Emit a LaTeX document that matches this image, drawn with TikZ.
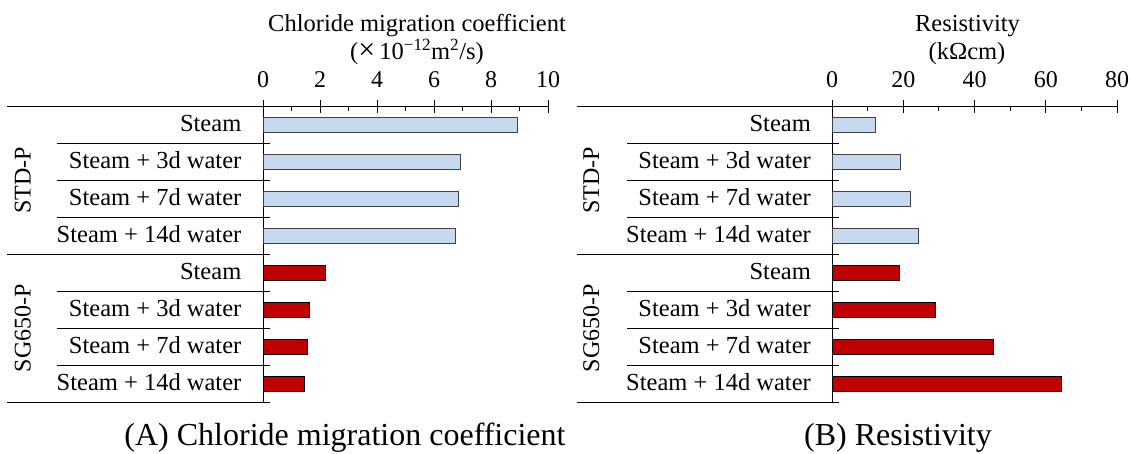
\documentclass[tikz,border=0pt]{standalone}
\usepackage{fontspec}
\setmainfont{Liberation Serif}
\definecolor{barblue}{HTML}{C6D9F1}
\definecolor{barred}{HTML}{C00000}

\begin{document}
\begin{tikzpicture}[x=1pt,y=-1pt,
  rowlabel/.style={anchor=base east, inner sep=0pt, font=\fontsize{24.5}{28}\selectfont},
  ticklabel/.style={anchor=base, inner sep=0pt, font=\fontsize{24}{28}\selectfont},
  titletext/.style={anchor=base, inner sep=0pt, font=\fontsize{24.5}{29}\selectfont},
  grouplabel/.style={rotate=90, inner sep=0pt, font=\fontsize{24}{28}\selectfont},
  captiontext/.style={anchor=base, inner sep=0pt, font=\fontsize{32}{36}\selectfont},
  axisline/.style={line width=1pt, black},
  majortick/.style={line width=1pt, black},
  minortick/.style={line width=0.9pt, black},
  bluebar/.style={draw=black!75, line width=0.9pt, fill=barblue},
  redbar/.style={draw=black, line width=0.9pt, fill=barred},
]
\useasboundingbox (0,0) rectangle (1133,454);
\newcommand{\bigtimes}{{\fontsize{30}{30}\selectfont ×}\,}

% ---------- Panel A: chloride migration coefficient ----------
\coordinate (A-top-left) at (7.3,106.7);
\coordinate (A-org) at (263,106.7);
\coordinate (A-end) at (548,106.7);
\coordinate (A-bot) at (263,402.7);
\draw[axisline] (A-top-left) -- (A-end);
\draw[axisline] (A-org) -- (A-bot);
% row separators / category ticks
\foreach \k in {1,2,3,5,6,7}
  \draw[axisline] (57.3,{106.7+37*\k}) -- (270,{106.7+37*\k});
\foreach \k in {4,8}
  \draw[axisline] (7.3,{106.7+37*\k}) -- (270,{106.7+37*\k});
% value axis ticks and labels
\foreach \v [count=\j from 0] in {0,2,4,6,8,10} {
  \draw[majortick] ({263+28.5*\v},100) -- ({263+28.5*\v},113);
  \node[ticklabel] (A-tick-\j) at ({263+28.5*\v},87.3) {\v};
}
\foreach \v in {1,3,5,7,9}
  \draw[minortick] ({263+28.5*\v},106.7) -- ({263+28.5*\v},111);
% bars
\foreach \v [count=\i] in {8.92,6.92,6.87,6.74}
  \draw[bluebar] (263,{106.7+37*(\i-0.5)-7.5}) rectangle ({263+28.5*\v},{106.7+37*(\i-0.5)+7.5});
\foreach \v [count=\i from 5] in {2.18,1.63,1.55,1.44}
  \draw[redbar] (263,{106.7+37*(\i-0.5)-7.5}) rectangle ({263+28.5*\v},{106.7+37*(\i-0.5)+7.5});
% row labels
\foreach \lab [count=\i] in {Steam,Steam + 3d water,Steam + 7d water,Steam + 14d water,Steam,Steam + 3d water,Steam + 7d water,Steam + 14d water}
  \node[rowlabel] (A-row-\i) at (241.5,{106.7+37*(\i-0.5)+6.5}) {\lab};
% group labels
\node[grouplabel] (A-std) at (22.8,180.2) {STD-P};
\node[grouplabel] (A-sg) at (22.8,328.2) {SG650-P};
% axis title and caption
\node[titletext] (A-title1) at (417,31.7) {Chloride migration coefficient};
\node[titletext] (A-title2) at (417,60) {(\bigtimes10\textsuperscript{−12}m\textsuperscript{2}/s)};
\node[captiontext] (A-caption) at (345,445) {(A) Chloride migration coefficient};

% ---------- Panel B: resistivity ----------
\coordinate (B-top-left) at (576.5,106.7);
\coordinate (B-org) at (832,106.7);
\coordinate (B-end) at (1117,106.7);
\coordinate (B-bot) at (832,402.7);
\draw[axisline] (B-top-left) -- (B-end);
\draw[axisline] (B-org) -- (B-bot);
\foreach \k in {1,2,3,5,6,7}
  \draw[axisline] (627,{106.7+37*\k}) -- (839,{106.7+37*\k});
\foreach \k in {4,8}
  \draw[axisline] (576.5,{106.7+37*\k}) -- (839,{106.7+37*\k});
\foreach \v [count=\j from 0] in {0,20,40,60,80} {
  \draw[majortick] ({832+3.5625*\v},100) -- ({832+3.5625*\v},113);
  \node[ticklabel] (B-tick-\j) at ({832+3.5625*\v},87.3) {\v};
}
\foreach \v in {10,30,50,70}
  \draw[minortick] ({832+3.5625*\v},106.7) -- ({832+3.5625*\v},111);
\foreach \v [count=\i] in {12.1,19.1,21.95,24.4}
  \draw[bluebar] (832,{106.7+37*(\i-0.5)-7.5}) rectangle ({832+3.5625*\v},{106.7+37*(\i-0.5)+7.5});
\foreach \v [count=\i from 5] in {18.8,29.1,45.3,64.4}
  \draw[redbar] (832,{106.7+37*(\i-0.5)-7.5}) rectangle ({832+3.5625*\v},{106.7+37*(\i-0.5)+7.5});
\foreach \lab [count=\i] in {Steam,Steam + 3d water,Steam + 7d water,Steam + 14d water,Steam,Steam + 3d water,Steam + 7d water,Steam + 14d water}
  \node[rowlabel] (B-row-\i) at (811,{106.7+37*(\i-0.5)+6.5}) {\lab};
\node[grouplabel] (B-std) at (591.3,180.2) {STD-P};
\node[grouplabel] (B-sg) at (591.3,328.2) {SG650-P};
\node[titletext] (B-title1) at (967.5,31.7) {Resistivity};
\node[titletext] (B-title2) at (967,60) {(kΩcm)};
\node[captiontext] (B-caption) at (898,445) {(B) Resistivity};
\end{tikzpicture}
\end{document}
